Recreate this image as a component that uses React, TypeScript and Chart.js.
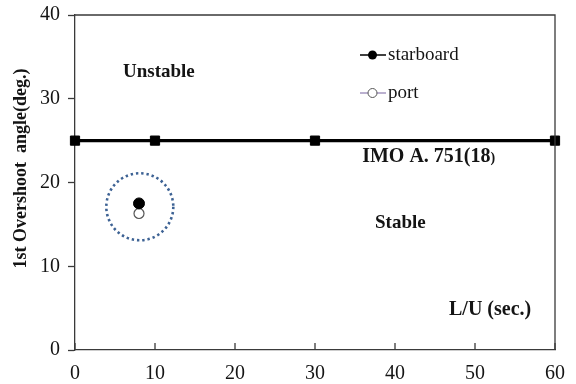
import React, { useEffect, useRef } from 'react';
import { Chart, registerables } from 'chart.js';

Chart.register(...registerables);

const xTicks = [0, 10, 20, 30, 40, 50, 60];
const yTicks = [0, 10, 20, 30, 40];
const imoX = [0, 10, 30, 60];
const imoY = [25, 25, 25, 25];
const starboardX = [8];
const starboardY = [17.5];
const portX = [8];
const portY = [16.3];
const seriesNames = ['starboard', 'port'];
const circleCenter = [8.1, 17.1];
const circleRadiusY = 4.0;
const xTitle = 'L/U (sec.)';
const yTitle = '1st Overshoot  angle(deg.)';
const regionLabels = ['Unstable', 'Stable'];
const imoLabel = 'IMO A. 751(18';

const SERIF = '"Liberation Serif", "Times New Roman", serif';
const TEXT = '#141414';

const overlayPlugin = {
  id: 'overlay',
  afterDatasetsDraw(chart: any) {
    const { ctx, scales } = chart;
    const xs = scales.x;
    const ys = scales.y;
    const cx = xs.getPixelForValue(circleCenter[0]);
    const cy = ys.getPixelForValue(circleCenter[1]);
    const r = Math.abs(ys.getPixelForValue(circleCenter[1] + circleRadiusY) - cy);
    ctx.save();
    ctx.strokeStyle = '#3d6294';
    ctx.lineWidth = 2.6;
    ctx.setLineDash([2.4, 2.9]);
    ctx.beginPath();
    ctx.arc(cx, cy, r, 0, Math.PI * 2);
    ctx.stroke();
    ctx.restore();
  },
  afterDraw(chart: any) {
    const { ctx, chartArea, scales } = chart;
    const xs = scales.x;
    const ys = scales.y;
    ctx.save();
    ctx.strokeStyle = '#3a3a3a';
    ctx.lineWidth = 1.3;
    ctx.beginPath();
    ctx.moveTo(chartArea.left, chartArea.top);
    ctx.lineTo(chartArea.right, chartArea.top);
    ctx.lineTo(chartArea.right, chartArea.bottom);
    ctx.stroke();
    ctx.beginPath();
    for (const t of xTicks) {
      const px = xs.getPixelForValue(t);
      ctx.moveTo(px, chartArea.bottom);
      ctx.lineTo(px, chartArea.bottom - 7);
    }
    ctx.stroke();
    // y title
    ctx.fillStyle = TEXT;
    ctx.textBaseline = 'middle';
    ctx.textAlign = 'center';
    ctx.font = `bold 18px ${SERIF}`;
    ctx.save();
    ctx.translate(21, (chartArea.top + chartArea.bottom) / 2 - 14);
    ctx.rotate(-Math.PI / 2);
    ctx.fillText(yTitle, 0, 0);
    ctx.restore();
    // annotations
    ctx.textAlign = 'left';
    ctx.font = `bold 19px ${SERIF}`;
    ctx.fillText(regionLabels[0], xs.getPixelForValue(6.0), ys.getPixelForValue(33.2));
    ctx.fillText(regionLabels[1], xs.getPixelForValue(37.5), ys.getPixelForValue(15.2));
    ctx.font = `bold 20px ${SERIF}`;
    ctx.fillText(xTitle, xs.getPixelForValue(46.75), ys.getPixelForValue(4.8));
    const ix = xs.getPixelForValue(35.9);
    const iy = ys.getPixelForValue(23.05);
    ctx.fillText(imoLabel, ix, iy);
    const w = ctx.measureText(imoLabel).width;
    ctx.font = `bold 14px ${SERIF}`;
    ctx.fillText(')', ix + w, iy + 1.5);
    // legend
    const ly = [55, 93];
    const lineColors = ['#000000', '#a497c0'];
    for (let i = 0; i < 2; i++) {
      ctx.strokeStyle = lineColors[i];
      ctx.lineWidth = 1.5;
      ctx.beginPath();
      ctx.moveTo(360, ly[i]);
      ctx.lineTo(386, ly[i]);
      ctx.stroke();
      ctx.beginPath();
      ctx.arc(372.5, ly[i], 4.5, 0, Math.PI * 2);
      if (i === 0) {
        ctx.fillStyle = '#000';
        ctx.fill();
      } else {
        ctx.fillStyle = '#fff';
        ctx.fill();
        ctx.strokeStyle = '#555';
        ctx.lineWidth = 1;
        ctx.stroke();
      }
      ctx.fillStyle = TEXT;
      ctx.font = `19px ${SERIF}`;
      ctx.fillText(seriesNames[i], 388, ly[i]);
    }
    ctx.restore();
  },
};

export default function App() {
  const ref = useRef<HTMLCanvasElement>(null);
  useEffect(() => {
    document.body.style.margin = '0';
    const canvas = ref.current;
    if (!canvas) return;
    const chart = new Chart(canvas, {
      type: 'scatter',
      data: {
        datasets: [
          {
            label: 'IMO',
            type: 'line',
            data: imoX.map((x, i) => ({ x, y: imoY[i] })),
            borderColor: '#000',
            borderWidth: 3.2,
            pointStyle: 'rect',
            pointRadius: 6.5,
            pointBackgroundColor: '#000',
            pointBorderColor: '#000',
            pointBorderWidth: 1,
            showLine: true,
            clip: false,
          } as any,
          {
            label: seriesNames[0],
            data: starboardX.map((x, i) => ({ x, y: starboardY[i] })),
            pointRadius: 5.5,
            pointBackgroundColor: '#000',
            pointBorderColor: '#000',
            pointBorderWidth: 1,
          },
          {
            label: seriesNames[1],
            data: portX.map((x, i) => ({ x, y: portY[i] })),
            pointRadius: 5,
            pointBackgroundColor: '#fff',
            pointBorderColor: '#555',
            pointBorderWidth: 1.2,
          },
        ],
      },
      options: {
        animation: false,
        responsive: false,
        devicePixelRatio: 1,
        layout: { padding: { top: 15, right: 21, left: 0, bottom: 0 }, autoPadding: false },
        plugins: { legend: { display: false }, tooltip: { enabled: false } },
        scales: {
          x: {
            type: 'linear',
            min: 0,
            max: 60,
            afterBuildTicks: (s: any) => {
              s.ticks = xTicks.map((v) => ({ value: v }));
            },
            afterFit: (s: any) => {
              s.height = 34;
              s.paddingLeft = 0;
              s.paddingRight = 0;
            },
            grid: { display: true, drawOnChartArea: false, drawTicks: false },
            border: { display: true, color: '#3a3a3a', width: 1.3 },
            ticks: {
              color: TEXT,
              font: { family: SERIF, size: 20 },
              padding: 12,
              maxRotation: 0,
            },
          },
          y: {
            type: 'linear',
            min: 0,
            max: 40,
            afterBuildTicks: (s: any) => {
              s.ticks = yTicks.map((v) => ({ value: v }));
            },
            afterFit: (s: any) => {
              s.width = 75;
              s.paddingTop = 0;
              s.paddingBottom = 0;
            },
            grid: {
              display: true,
              drawOnChartArea: false,
              drawTicks: true,
              tickLength: 7,
              tickColor: '#3a3a3a',
              tickWidth: 1.3,
            },
            border: { display: true, color: '#3a3a3a', width: 1.3 },
            ticks: {
              color: TEXT,
              font: { family: SERIF, size: 20 },
              padding: 8,
            },
          },
        },
      },
      plugins: [overlayPlugin],
    });
    return () => chart.destroy();
  }, []);
  return (
    <div style={{ width: 576, height: 384, background: '#fff' }}>
      <canvas ref={ref} width={576} height={384} style={{ display: 'block' }} />
    </div>
  );
}
